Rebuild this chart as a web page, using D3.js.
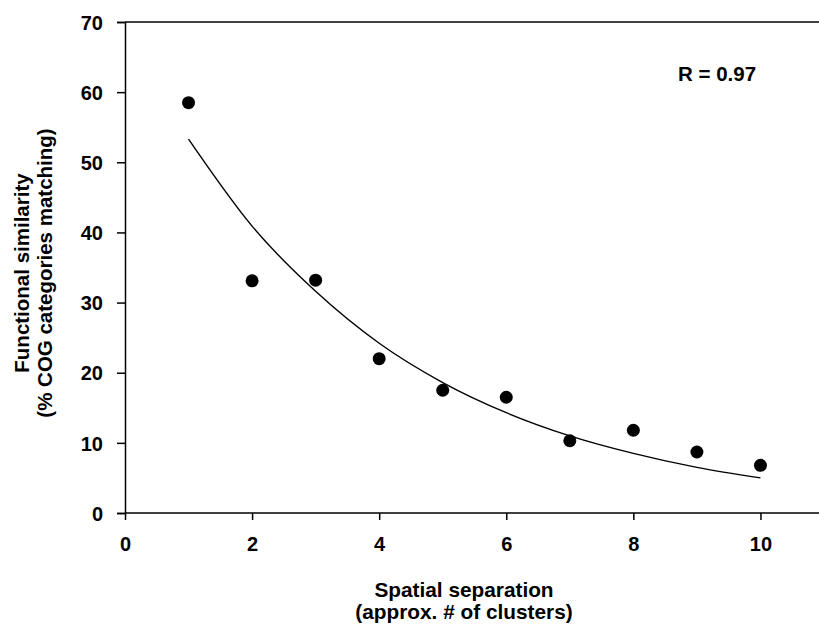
<!DOCTYPE html>
<html>
<head>
<meta charset="utf-8">
<script src="https://cdn.jsdelivr.net/npm/d3@7"></script>
<style>
  html, body { margin: 0; padding: 0; background: #fff; }
  svg { display: block; font-family: Arial, "Liberation Sans", sans-serif; font-weight: bold; }
</style>
</head>
<body>
<div id="chart"></div>
<script>
// observed points: spatial separation vs functional similarity
const separation = [1, 2, 3, 4, 5, 6, 7, 8, 9, 10];
const similarity = [58.5, 33.1, 33.2, 22.0, 17.5, 16.5, 10.3, 11.8, 8.7, 6.8];

// fitted curve at each x
const fitX = [1, 2, 3, 4, 5, 6, 7, 8, 9, 10];
const fitY = [53.3, 40.9, 31.6, 24.2, 18.6, 14.3, 11.0, 8.5, 6.5, 5.0];

const xTicks = [0, 2, 4, 6, 8, 10];
const yTicks = [0, 10, 20, 30, 40, 50, 60, 70];
const rLabel = 'R = 0.97';

const W = 819, H = 626;
const svg = d3.select('#chart').append('svg').attr('width', W).attr('height', H);

const x = d3.scaleLinear().domain([0, 11]).range([125, 824]);
const y = d3.scaleLinear().domain([0, 70]).range([513, 22]);

// top frame line
svg.append('line')
  .attr('x1', x(0)).attr('x2', W)
  .attr('y1', y(70)).attr('y2', y(70))
  .attr('stroke', '#000').attr('stroke-width', 1.5);

const xAxis = svg.append('g')
  .attr('transform', `translate(0,${y(0)})`)
  .call(d3.axisBottom(x).tickValues(xTicks).tickSize(7).tickPadding(17).tickFormat(d3.format('d')));

const yAxis = svg.append('g')
  .attr('transform', `translate(${x(0)},0)`)
  .call(d3.axisLeft(y).tickValues(yTicks).tickSize(8).tickPadding(14).tickFormat(d3.format('d')));

[xAxis, yAxis].forEach(a => {
  a.select('.domain').attr('stroke', '#000').attr('stroke-width', 1.5);
  a.selectAll('.tick line').attr('stroke', '#000').attr('stroke-width', 1.5);
  a.selectAll('.tick text')
    .attr('fill', '#000')
    .style('font-size', '20px')
    .style('font-weight', 'bold')
    .style('font-family', 'Arial, "Liberation Sans", sans-serif');
});
yAxis.selectAll('.tick text').attr('dy', '0.36em');
// extend x domain line to the right edge
xAxis.select('.domain').attr('d', `M${x(0)},0H${W}`);

// fitted curve
const line = d3.line()
  .x((d, i) => x(fitX[i]))
  .y(d => y(d))
  .curve(d3.curveMonotoneX);

svg.append('path')
  .datum(fitY)
  .attr('d', line)
  .attr('fill', 'none')
  .attr('stroke', '#000')
  .attr('stroke-width', 1.4);

// points
svg.append('g')
  .selectAll('circle')
  .data(similarity)
  .join('circle')
  .attr('cx', (d, i) => x(separation[i]))
  .attr('cy', d => y(d))
  .attr('r', 6.5)
  .attr('fill', '#000');

// annotation
svg.append('text')
  .attr('x', 678).attr('y', 81)
  .style('font-size', '20.5px')
  .text(rLabel);

// axis titles
const xTitle = svg.append('text')
  .attr('text-anchor', 'middle')
  .style('font-size', '20.8px');
xTitle.append('tspan').attr('x', 464).attr('y', 597).text('Spatial separation');
xTitle.append('tspan').attr('x', 464).attr('y', 619).text('(approx. # of clusters)');

const yTitle = svg.append('text')
  .attr('text-anchor', 'middle')
  .attr('transform', 'translate(0,273) rotate(-90)')
  .style('font-size', '20.5px');
yTitle.append('tspan').attr('x', 0).attr('y', 29).text('Functional similarity');
yTitle.append('tspan').attr('x', 0).attr('y', 52).text('(% COG categories matching)');
</script>
</body>
</html>
